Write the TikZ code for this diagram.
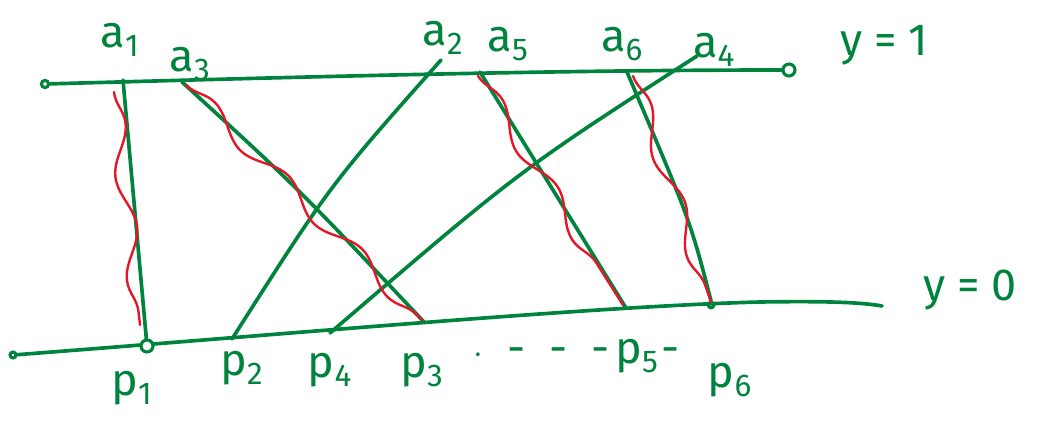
\documentclass[tikz,border=0pt]{standalone}
\usepackage{fontspec}
\setsansfont{Fira Sans}
\usetikzlibrary{decorations.pathmorphing,positioning}
\definecolor{pen}{RGB}{0,132,61}
\definecolor{redpen}{RGB}{228,22,40}

\begin{document}
\begin{tikzpicture}[x=0.025cm,y=-0.025cm,
  pen/.style={draw=pen, line width=2.6pt, line cap=round},
  wave/.style={draw=redpen, line width=1.7pt, line cap=round, decorate,
               decoration={snake, amplitude=0.2cm, segment length=2.6cm}},
  lbl/.style={text=pen, font=\sffamily\fontsize{32}{32}\selectfont, inner sep=1pt},
  dot/.style={circle, draw=pen, line width=2.2pt, inner sep=0pt, minimum size=#1},
  dot/.default=0.2cm
]
  \useasboundingbox (0,0) rectangle (1040,422);

  % the two lines y=1 and y=0
  \node[dot=0.18cm] (tl) at (45,84) {};
  \node[dot=0.3cm] (tr) at (789,70) {};
  \node[dot=0.15cm] (bl) at (13,355) {};
  \coordinate (br) at (882,306);
  \draw[pen] (tl) .. controls (300,77) and (550,70) .. (tr);
  \draw[pen] (bl) .. controls (300,333) and (600,306) .. (760,302) .. controls (820,301) and (860,302) .. (br);

  % points on y=1
  \coordinate (a1) at (123,80);
  \coordinate (a3) at (182,82);
  \coordinate (a2) at (441,60);
  \coordinate (a5) at (480,72);
  \coordinate (a6) at (627,72);
  \coordinate (a4) at (697,56);
  % points on y=0
  \node[dot=0.3cm, fill=white] (p1) at (147,346) {};
  \coordinate (p2) at (232,339);
  \coordinate (p4) at (330,333);
  \coordinate (p3) at (424,322);
  \coordinate (p5) at (626,308);
  \node[dot=0.14cm] (p6) at (711,305) {};

  % matching
  \draw[pen] (a1) -- (p1);
  \draw[pen] (a3) .. controls (300,190) .. (p3);
  \draw[pen] (a2) .. controls (330,185) .. (p2);
  \draw[pen] (a5) -- (p5);
  \draw[pen] (a6) .. controls (690,220) .. (p6.north);
  \draw[pen] (a4) .. controls (520,170) .. (p4);

  % red paths
  \draw[wave] (114,92) -- (140,325);
  \draw[wave] (186,85) -- (422,320);
  \draw[wave] (478,76) -- (623,305);
  \draw[wave] (633,76) -- (711,302);

  % labels
  \node[lbl] (la1) at (120,40) {a\textsubscript{1}};
  \node[lbl] (la3) at (190,64) {a\textsubscript{3}};
  \node[lbl] (la2) at (443,38) {a\textsubscript{2}};
  \node[lbl] (la5) at (508,44) {a\textsubscript{5}};
  \node[lbl] (la6) at (622,44) {a\textsubscript{6}};
  \node[lbl] (la4) at (714,50) {a\textsubscript{4}};
  \node[lbl] (ly1) at (884,45) {y = 1};
  \node[lbl] (ly0) at (970,290) {y = 0};

  \node[lbl] (lp1) at (132,388) {p\textsubscript{1}};
  \node[lbl] (lp2) at (242,368) {p\textsubscript{2}};
  \node[lbl] (lp4) at (330,370) {p\textsubscript{4}};
  \node[lbl] (lp3) at (422,370) {p\textsubscript{3}};
  \node[lbl] (lp5) at (637,356) {p\textsubscript{5}};
  \node[lbl, left=2pt of lp5] (ldots) {$\cdot$\ \ -\ \ -\ \ -};
  \node[lbl, right=0pt of lp5] (ldash) {-};
  \node[lbl] (lp6) at (730,380) {p\textsubscript{6}};
\end{tikzpicture}
\end{document}
